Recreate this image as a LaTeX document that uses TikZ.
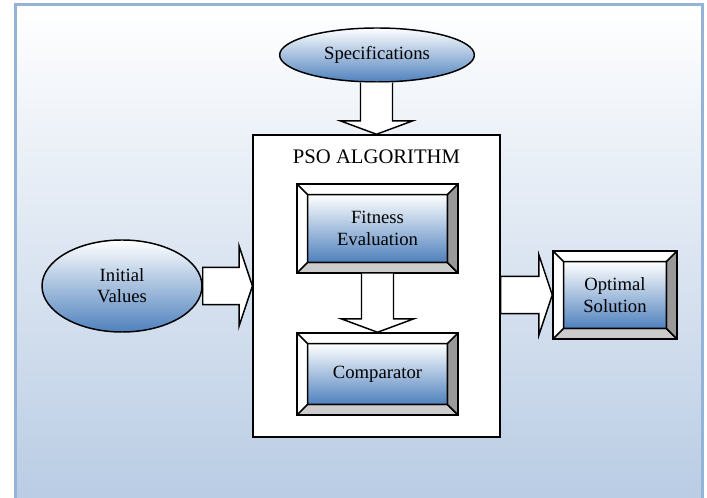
\documentclass[tikz,border=0pt]{standalone}
\usepackage{fontspec}
\setmainfont{Liberation Serif}
\usetikzlibrary{shapes.geometric,calc}

\definecolor{panelbottom}{RGB}{185,204,228}
\definecolor{panelborder}{RGB}{149,179,215}
\definecolor{facemid}{RGB}{205,216,236}
\definecolor{facebottom}{RGB}{79,129,189}

\tikzset{
	face/.style={top color=white, middle color=facemid, bottom color=facebottom},
	oval/.style={ellipse, draw, line width=1.1pt, face, inner sep=0pt, align=center},
	bevelbox/.style={draw, line width=1.1pt, inner sep=0pt, align=center,
		path picture={
			\coordinate (bsw) at (path picture bounding box.south west);
			\coordinate (bne) at (path picture bounding box.north east);
			\coordinate (isw) at ([shift={(8pt,8pt)}]bsw);
			\coordinate (ine) at ([shift={(-8pt,-8pt)}]bne);
			\fill[white] (bsw) rectangle (bne);
			\filldraw[fill=gray!40, line width=1.1pt] (bsw) -- (bsw-|bne) -- (isw-|ine) -- (isw) -- cycle;
			\filldraw[fill=gray!80, line width=1.1pt] (bsw-|bne) -- (bne) -- (ine) -- (isw-|ine) -- cycle;
			\shade[face] (isw) rectangle (ine);
			\draw[line width=1.1pt] (isw) rectangle (ine) (bsw|-bne) -- (isw|-ine);
		}},
	fatarrow/.style={draw, fill=white, line width=1.1pt, line join=miter}
}

% wide arrows between the blocks
\newcommand\blockdown[2]{%
	\filldraw[fatarrow] let \p1=(#1), \p2=(#2) in
		(\x2-12pt,\y1) -- (\x2-12pt,\y2+10pt) -- (\x2-27pt,\y2+10pt) -- (\x2,\y2)
		-- (\x2+27pt,\y2+10pt) -- (\x2+12pt,\y2+10pt) -- (\x2+12pt,\y1);}
\newcommand\blockright[2]{%
	\filldraw[fatarrow] let \p1=(#1), \p2=(#2) in
		(\x1,\y2+14pt) -- (\x2-10pt,\y2+14pt) -- (\x2-10pt,\y2+30pt) -- (\x2,\y2)
		-- (\x2-10pt,\y2-30pt) -- (\x2-10pt,\y2-14pt) -- (\x1,\y2-14pt) -- cycle;}

\begin{document}
\begin{tikzpicture}[x=0.75pt, y=-0.75pt, font=\fontsize{14}{16}\selectfont]
		\useasboundingbox (0,0) rectangle (707,498);
		\clip (0,0) rectangle (707,498);
		\filldraw[top color=white, bottom color=panelbottom, draw=panelborder, line width=2.25pt] (15,5) rectangle (702,502);

		\node[oval, minimum width=146pt, minimum height=40.5pt] (spec) at (377,55) {Specifications};
		\node[oval, minimum width=120pt, minimum height=69pt] (init) at (122,286) {Initial\\Values};
		\node[draw, fill=white, line width=1.1pt, minimum width=185pt, minimum height=226.5pt] (pso) at (376.5,286) {};
		\node[font=\fontsize{15.5}{18}\selectfont] (psotitle) at (376.5,157) {PSO ALGORITHM};
		\node[bevelbox, minimum width=120.75pt, minimum height=66.75pt] (fit) at (377.5,228.5) {Fitness\\Evaluation};
		\node[bevelbox, minimum width=120.75pt, minimum height=61.5pt] (comp) at (377.5,374) {Comparator};
		\node[bevelbox, minimum width=93pt, minimum height=66pt] (opt) at (615,295) {Optimal\\Solution};

		\blockdown{spec.south}{pso.north}
		\blockdown{fit.south}{comp.north}
		\blockright{init.east}{pso.west}
		\blockright{pso.east}{opt.west}
	\end{tikzpicture}
\end{document}
